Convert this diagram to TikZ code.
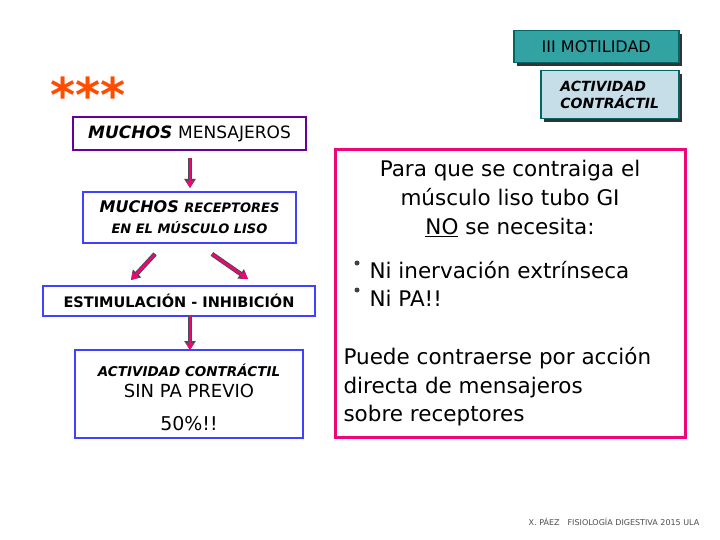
\documentclass[tikz,border=0pt]{standalone}
\usepackage{fontspec}
\setmainfont{DejaVu Sans}
\usetikzlibrary{arrows.meta}
\begin{document}
\begin{tikzpicture}[x=1pt,y=-1pt,
 lbox/.style={draw=#1,line width=2pt,fill=white},
 parr/.style={draw=black!70,line width=4.5pt,-{Triangle[length=9pt,width=11pt]},
   postaction={draw=magenta!80!red,line width=2.5pt,-{Triangle[length=7pt,width=8pt]}}}]
\useasboundingbox (0,0) rectangle (720,540);
% top right
\fill[black!80] (517,34) rectangle (682,66);
\node[draw=teal!80!black,line width=1.5pt,fill=teal!55!cyan!60!gray,minimum width=165pt,minimum height=32pt,anchor=north west,inner sep=0] (mot) at (513,30) {\fontsize{16}{17}\selectfont III MOTILIDAD};
\fill[black!80] (544,74) rectangle (682,122);
\node[draw=teal!80!black,line width=1.5pt,fill=cyan!25!teal!25,minimum width=138pt,minimum height=48pt,anchor=north west,inner sep=0,align=left,font=\bfseries\itshape\fontsize{14}{17}\selectfont] (act) at (540,70) {ACTIVIDAD\\CONTRÁCTIL};
\node[text=orange!60!red,font=\bfseries\fontsize{48}{48}\selectfont] (stars) at (88,95) {***};
% left boxes
\draw[lbox=violet!80!blue] (73,117) rectangle (306,150);
\node (m1) at (189.5,133.5) {\fontsize{17}{18}\selectfont\bfseries\itshape MUCHOS\ \mdseries\upshape MENSAJEROS};
\draw[lbox=blue!75] (83,192) rectangle (296,243);
\node (m2a) at (189.5,207) {\fontsize{16}{18}\selectfont\bfseries\itshape MUCHOS \fontsize{13}{18}\selectfont RECEPTORES};
\node (m2b) at (189.5,228) {\fontsize{13}{15}\selectfont\bfseries\itshape EN EL MÚSCULO LISO};
\draw[lbox=blue!75] (43,286) rectangle (315,316);
\node[font=\bfseries\fontsize{14.5}{16}\selectfont] (m3) at (179,301) {ESTIMULACIÓN - INHIBICIÓN};
\draw[lbox=blue!75] (75,350) rectangle (303,438);
\node (m4a) at (189,370) {\bfseries\itshape\fontsize{13.5}{15}\selectfont ACTIVIDAD CONTRÁCTIL};
\node (m4b) at (189,391) {\fontsize{18}{19}\selectfont SIN PA PREVIO};
\node (m4c) at (189,430) [anchor=base] {\fontsize{19}{20}\selectfont 50\%!!};
\coordinate (a1s) at (190,158); \coordinate (a1e) at (190,188);
\coordinate (a2s) at (155,254); \coordinate (a2e) at (131,280);
\coordinate (a3s) at (212,254); \coordinate (a3e) at (248,279);
\coordinate (a4s) at (190,316); \coordinate (a4e) at (190,350);
\draw[parr] (a1s)--(a1e);
\draw[parr] (a2s)--(a2e);
\draw[parr] (a3s)--(a3e);
\draw[parr] (a4s)--(a4e);
% right box
\draw[draw=magenta!80!red,line width=3pt] (335,150) rectangle (685,437);
\node[align=center,font=\fontsize{21.5}{29}\selectfont] (r1) at (510,198) {Para que se contraiga el\\músculo liso tubo GI\\\underline{NO} se necesita:};
\node[align=left,anchor=west,font=\fontsize{21.5}{28}\selectfont] (r2) at (366,284) {Ni inervación extrínseca\\Ni PA!!};
\fill[black!75] (357,263) circle (2.5pt) (357,290) circle (2.5pt);
\node[align=left,anchor=west,font=\fontsize{21.5}{28.5}\selectfont] (r3) at (340,387) {Puede contraerse por acción\\directa de mensajeros\\sobre receptores};
\node[font=\fontsize{8}{9}\selectfont,text=black!70] (foot) at (614,522) {X. PÁEZ\quad FISIOLOGÍA DIGESTIVA 2015 ULA};
\end{tikzpicture}
\end{document}
